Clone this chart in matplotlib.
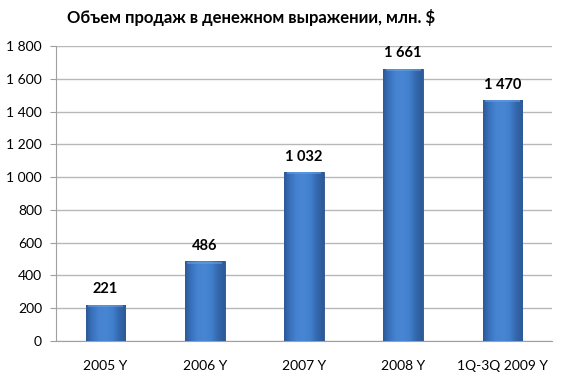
import matplotlib
matplotlib.use("Agg")
import matplotlib.pyplot as plt
import numpy as np
from matplotlib.colors import LinearSegmentedColormap

categories = ["2005 Y", "2006 Y", "2007 Y", "2008 Y", "1Q-3Q 2009 Y"]
values = [221, 486, 1032, 1661, 1470]
yticks = [0, 200, 400, 600, 800, 1000, 1200, 1400, 1600, 1800]
title = "Объем продаж в денежном выражении, млн. $"

def fmt(v):
    return f"{v:,}".replace(",", " ")

plt.rcParams['font.family'] = ['Lato', 'DejaVu Sans']

fig = plt.figure(figsize=(5.69, 3.86), dpi=100)
ax = fig.add_axes([56/569, 1-341/386, (552-56)/569, (341-46)/386])

x = np.arange(len(categories))
bars = ax.bar(x, values, width=0.4, color="#3f78c4", edgecolor="#2a5088", linewidth=0.6, zorder=3)

cmap = LinearSegmentedColormap.from_list("bev", ["#2d5a98", "#3b74c0", "#4684d2", "#4886d4", "#4080cc", "#3468ae", "#2d5a98"])
grad = np.linspace(0, 1, 64).reshape(1, -1)
for b in bars:
    x0, y0 = b.get_x(), b.get_y()
    w, h = b.get_width(), b.get_height()
    im = ax.imshow(grad, cmap=cmap, aspect="auto", extent=(x0, x0 + w, y0, y0 + h), zorder=3.5, interpolation="bicubic")
    im.set_clip_path(b)
    top = 14
    ax.fill_between([x0 + w*0.06, x0 + w*0.94], y0 + h - top, y0 + h - 2, color="#6aa0e4", alpha=0.55, zorder=3.6, linewidth=0)

for xi, v in zip(x, values):
    ax.annotate(fmt(v), (xi, v), xytext=(0, 6), textcoords="offset points", ha="center", va="bottom",
                fontsize=10.5, fontweight="bold", color="black")

ax.set_ylim(0, 1800)
ax.set_xlim(-0.5, len(categories) - 0.5)
ax.set_yticks(yticks)
ax.set_yticklabels([fmt(t) for t in yticks], fontsize=10)
ax.set_xticks(x)
ax.set_xticklabels(categories, fontsize=10)
ax.tick_params(axis="x", length=0, pad=14)
ax.tick_params(axis="y", length=4, color="#a0a0a0", pad=6)
ax.yaxis.grid(True, color="#b8b8b8", linewidth=1, zorder=0)
ax.set_axisbelow(True)
for s in ["top", "right"]:
    ax.spines[s].set_visible(False)
ax.spines["left"].set_color("#a0a0a0")
ax.spines["bottom"].set_color("#a0a0a0")

fig.text(251/569, 1-18/386, title, ha="center", va="center", fontsize=12, fontweight="bold")

fig.savefig("out.png", dpi=100)
